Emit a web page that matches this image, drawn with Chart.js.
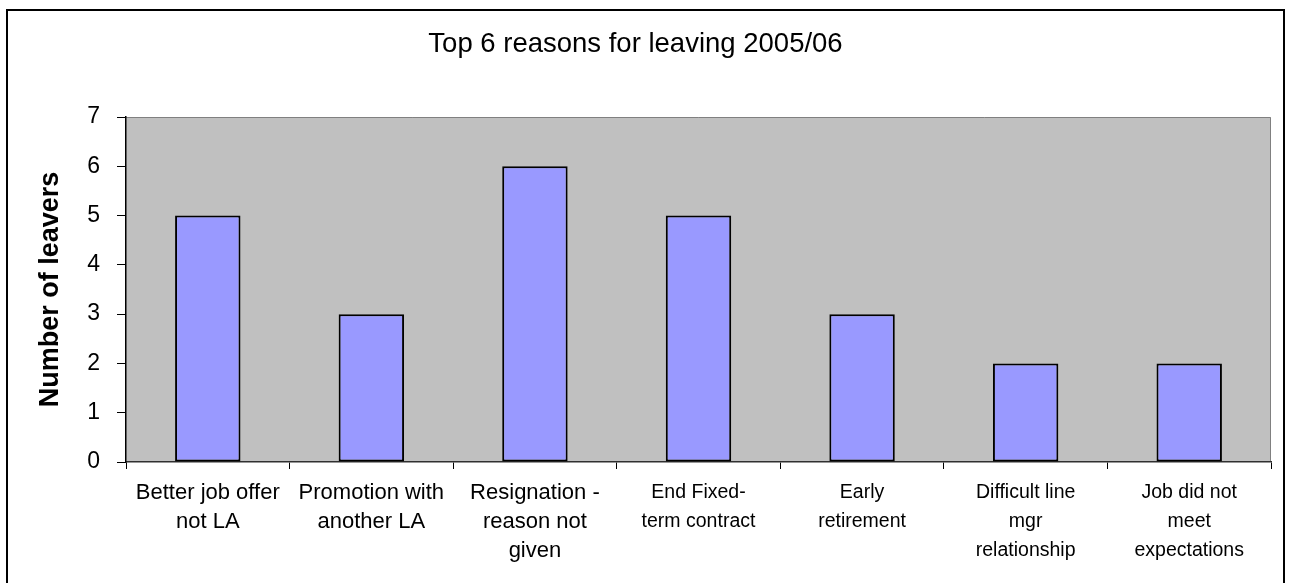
<!DOCTYPE html>
<html>
<head>
<meta charset="utf-8">
<title>Top 6 reasons for leaving 2005/06</title>
<script src="https://cdn.jsdelivr.net/npm/chart.js@4.4.0/dist/chart.umd.min.js"></script>
<style>
    html, body { margin: 0; padding: 0; background: #fff; overflow: hidden; }
    #wrap { position: relative; width: 1289px; height: 583px; }
    #frame {
        position: absolute; left: 6px; top: 9px;
        width: 1279px; height: 600px;
        border: 2px solid #000; box-sizing: border-box;
    }
    #chart { position: absolute; left: 0; top: 0; }
</style>
</head>
<body>
<div id="wrap">
    <div id="frame"></div>
    <canvas id="chart" width="1289" height="583"></canvas>
</div>
<script>
// Reasons (x categories), one label line per array item
const reasons = [
    ['Better job offer', 'not LA'],
    ['Promotion with', 'another LA'],
    ['Resignation -', 'reason not', 'given'],
    ['End Fixed-', 'term contract'],
    ['Early', 'retirement'],
    ['Difficult line', 'mgr', 'relationship'],
    ['Job did not', 'meet', 'expectations']
];
const leavers = [5, 3, 6, 5, 3, 2, 2];
const yTicks = [0, 1, 2, 3, 4, 5, 6, 7];

const FONT = "'Liberation Sans', Arial, sans-serif";

// Grey plot area with the thin grey top/right edges Excel draws
const plotArea = {
    id: 'plotArea',
    beforeDraw(chart) {
        const { ctx, chartArea: a } = chart;
        ctx.save();
        ctx.fillStyle = '#C0C0C0';
        ctx.fillRect(a.left, a.top, a.right - a.left, a.bottom - a.top);
        ctx.strokeStyle = '#808080';
        ctx.lineWidth = 1;
        ctx.beginPath();
        ctx.moveTo(a.left, a.top + 0.5);
        ctx.lineTo(a.right - 0.5, a.top + 0.5);
        ctx.lineTo(a.right - 0.5, a.bottom);
        ctx.stroke();
        ctx.restore();
    }
};

new Chart(document.getElementById('chart'), {
    type: 'bar',
    data: {
        labels: reasons,
        datasets: [{
            label: 'Number of leavers',
            data: leavers,
            backgroundColor: '#9999FF',
            borderColor: '#000000',
            borderWidth: 2,
            borderSkipped: false,
            barPercentage: 0.4,
            categoryPercentage: 1.0
        }]
    },
    options: {
        responsive: false,
        animation: false,
        layout: { padding: { left: 0, right: 18, top: 0, bottom: 0 } },
        plugins: {
            legend: { display: false },
            tooltip: { enabled: false },
            title: {
                display: true,
                text: 'Top 6 reasons for leaving 2005/06',
                color: '#000',
                font: { family: FONT, size: 27.5, weight: 'normal', lineHeight: 1.2 },
                padding: { top: 28, bottom: 56 }
            }
        },
        scales: {
            x: {
                offset: true,
                grid: {
                    offset: true,
                    drawOnChartArea: false,
                    drawTicks: true,
                    tickLength: 7,
                    color: '#000'
                },
                border: { color: '#303030', width: 1.5 },
                ticks: {
                    color: '#000',
                    maxRotation: 0,
                    autoSkip: false,
                    padding: 9,
                    font: (ctx) => ({
                        family: FONT,
                        size: ctx.index < 3 ? 22 : 19.5,
                        lineHeight: '29px'
                    })
                },
                afterFit(scale) { scale.height = 121; }
            },
            y: {
                min: 0,
                max: 7,
                afterBuildTicks(scale) {
                    scale.ticks = yTicks.map(v => ({ value: v }));
                },
                grid: {
                    drawOnChartArea: false,
                    drawTicks: true,
                    tickLength: 9,
                    color: '#000'
                },
                border: { color: '#000', width: 1.5 },
                ticks: {
                    color: '#000',
                    padding: 17,
                    font: { family: FONT, size: 23 }
                },
                title: {
                    display: true,
                    text: 'Number of leavers',
                    color: '#000',
                    font: { family: FONT, size: 27, weight: 'bold', lineHeight: 1.2 },
                    padding: { top: 34, bottom: 0 }
                },
                afterFit(scale) { scale.width = 126; }
            }
        }
    },
    plugins: [plotArea]
});
</script>
</body>
</html>
